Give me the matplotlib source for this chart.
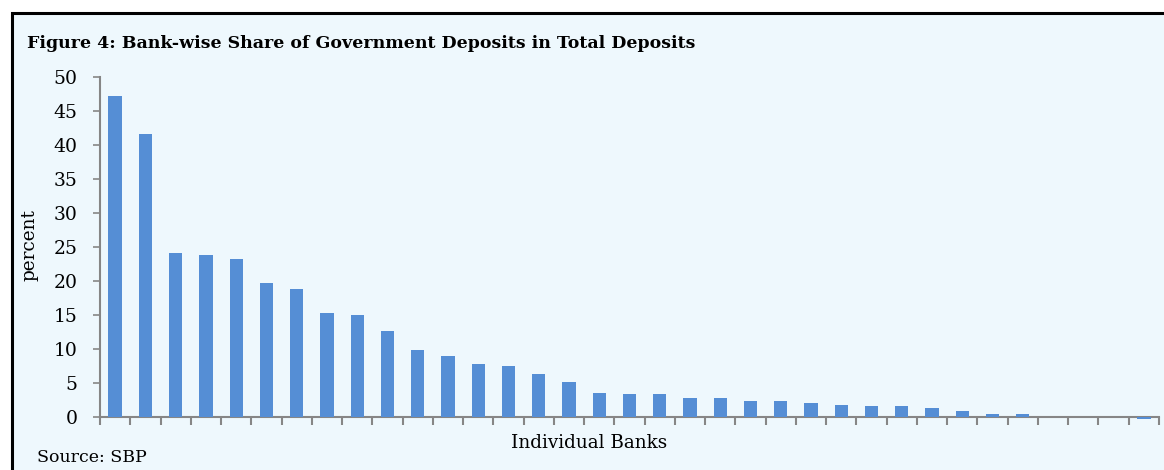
import matplotlib
matplotlib.use("Agg")
import matplotlib.pyplot as plt
from matplotlib.patches import Rectangle

title = "Figure 4: Bank-wise Share of Government Deposits in Total Deposits"
y_label = "percent"
x_label = "Individual Banks"
source = "Source: SBP"
y_ticks = [0, 5, 10, 15, 20, 25, 30, 35, 40, 45, 50]
values = [47.2, 41.6, 24.1, 23.8, 23.2, 19.7, 18.8, 15.3, 15.0, 12.7,
          9.8, 9.0, 7.8, 7.5, 6.3, 5.1, 3.6, 3.4, 3.4, 2.8,
          2.8, 2.4, 2.4, 2.1, 1.8, 1.6, 1.6, 1.3, 0.9, 0.4,
          0.4, 0.05, 0.05, 0.05, -0.35]

W, H = 1164, 470
fig = plt.figure(figsize=(W / 100, H / 100), dpi=100)
fig.patch.set_facecolor("white")
bg = "#EEF8FD"
fig.patches.append(Rectangle((12 / W, -0.1), 1.2, (H - 13) / H + 0.1,
                             transform=fig.transFigure, facecolor=bg,
                             edgecolor="black", linewidth=2.2, zorder=-10))

ax = fig.add_axes([100 / W, (H - 417) / H, 1059 / W, 340 / H], zorder=5)
ax.set_facecolor("none")
x = list(range(len(values)))
bars = ax.bar(x, values, width=0.44, color="#558ED5", zorder=1)
for b in bars:
    b.set_clip_on(False)
ax.set_xlim(-0.5, len(values) - 0.5)
ax.set_ylim(0, 50)
ax.set_yticks(y_ticks)
ax.set_yticklabels([str(t) for t in y_ticks], fontsize=13.5, family="DejaVu Serif")
ax.set_xticks([i - 0.5 for i in range(len(values) + 1)])
ax.set_xticklabels([])
for s in ["top", "right"]:
    ax.spines[s].set_visible(False)
for s in ["left", "bottom"]:
    ax.spines[s].set_color("#868686")
    ax.spines[s].set_linewidth(1.5)
    ax.spines[s].set_zorder(0.5)
ax.tick_params(axis="y", length=5, width=1.2, color="#868686", pad=11)
ax.tick_params(axis="x", length=6, width=1.5, color="#868686", direction="out")

fig.text(27 / W, 1 - 44 / H, title, fontsize=12.5, fontweight="bold",
         family="DejaVu Serif", ha="left", va="center")
fig.text(29 / W, 1 - 245 / H, y_label, fontsize=13.3, family="DejaVu Serif",
         rotation=90, ha="center", va="center")
fig.text(589 / W, 1 - 443 / H, x_label, fontsize=13.2, family="DejaVu Serif",
         ha="center", va="center")
fig.text(37 / W, 1 - 458 / H, source, fontsize=12.5, family="DejaVu Serif",
         ha="left", va="center")

fig.savefig("out.png", dpi=100, facecolor="white")
